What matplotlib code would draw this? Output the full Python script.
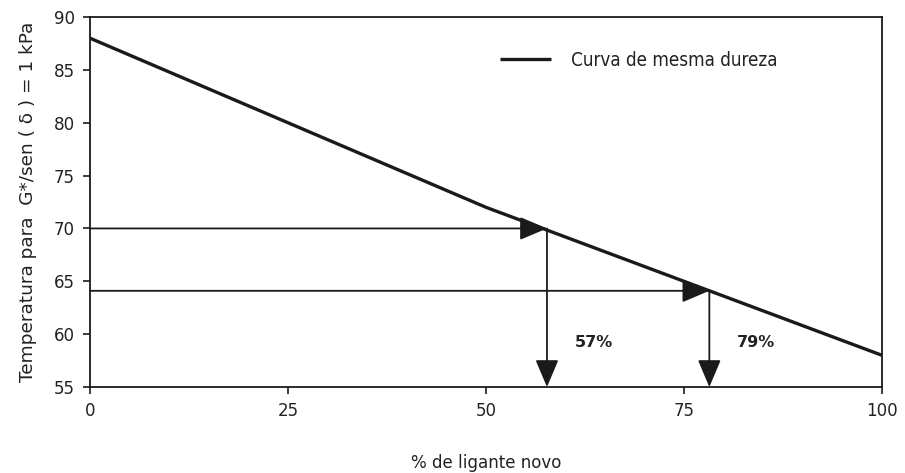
import matplotlib
matplotlib.use("Agg")
import matplotlib.pyplot as plt
from matplotlib.font_manager import FontProperties

# curva de mesma dureza
curva_x = [0, 50, 100]
curva_y = [88, 72, 58]

# leituras (temperatura alvo -> % de ligante novo)
temp_alvo = [70, 64.1]
pct_novo = [57.7, 78.2]
rotulos = ["57%", "79%"]

xticks = [0, 25, 50, 75, 100]
yticks = [55, 60, 65, 70, 75, 80, 85, 90]

cond = FontProperties(family="DejaVu Sans", stretch="condensed", size=13.3)
cond_leg = FontProperties(family="DejaVu Sans", stretch="condensed", size=13.5)

fig = plt.figure(figsize=(9.05, 4.73), dpi=100)
ax = fig.add_axes([0.0994, 0.1818, 0.8752, 0.7822])

ax.plot(curva_x, curva_y, color="#1a1a1a", lw=2.4, label="Curva de mesma dureza",
        solid_capstyle="butt", zorder=3)

arrow = dict(arrowstyle="-|>,head_length=1.7,head_width=0.72", color="#1a1a1a",
             lw=1.3, shrinkA=0, shrinkB=0)
for t, p, r in zip(temp_alvo, pct_novo, rotulos):
    ax.annotate("", xy=(p, t), xytext=(0, t), arrowprops=arrow)
    ax.annotate("", xy=(p, 55), xytext=(p, t), arrowprops=arrow)
    ax.text(p + 3.5, 59.2, r, fontsize=11.5, fontweight="bold", color="#222222",
            ha="left", va="center")

ax.set_xlim(0, 100)
ax.set_ylim(55, 90)
ax.set_xticks(xticks)
ax.set_yticks(yticks)
for lbl in ax.get_xticklabels() + ax.get_yticklabels():
    lbl.set_fontproperties(cond)
    lbl.set_color("#222222")
ax.tick_params(direction="out", length=5, width=1.2, color="#1a1a1a", pad=6)
for s in ax.spines.values():
    s.set_linewidth(1.3)
    s.set_color("#1a1a1a")

ax.set_xlabel("% de ligante novo", fontproperties=cond, color="#222222",
              labelpad=24)
ax.set_ylabel("Temperatura para  G*/sen ( δ ) = 1 kPa", fontsize=13.3,
              color="#222222", labelpad=12)

leg = ax.legend(loc="upper left", bbox_to_anchor=(0.497, 0.955), frameon=False,
                handlelength=2.67, handletextpad=1.07, prop=cond_leg)
for t in leg.get_texts():
    t.set_color("#222222")

fig.savefig("out.png", dpi=100)
